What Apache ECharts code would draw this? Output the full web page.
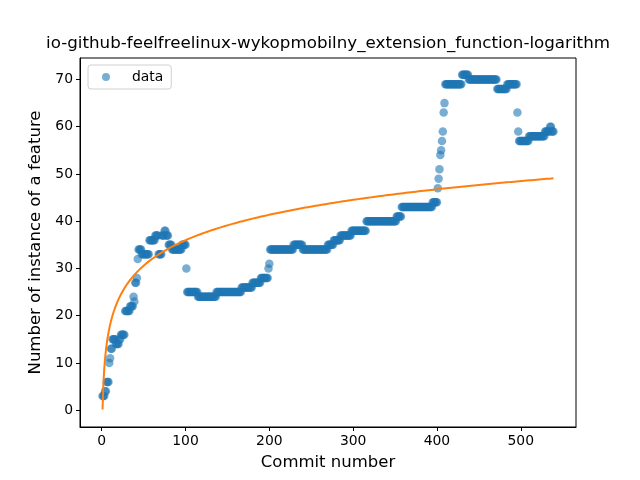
<!DOCTYPE html>
<html>
<head>
<meta charset="utf-8">
<script src="https://cdn.jsdelivr.net/npm/echarts@6/dist/echarts.min.js"></script>
<style>html,body{margin:0;padding:0;background:#fff}#c{width:640px;height:480px}</style>
</head>
<body>
<div id="c"></div>
<script>
// Step values of the scatter and how many consecutive commits hold each value
const segValues = [3,4,6,10,11,13,15,14,15,16,21,22,24,23,27,28,32,34,33,36,37,33,37,38,37,35,34,35,30,25,24,25,26,27,28,30,31,34,35,34,35,36,37,38,40,41,43,44,47,49,51,54,55,57,59,63,65,69,71,70,68,69,63,59,57,58,59,60,59];
const segCounts = [3,2,3,1,1,2,4,4,2,5,6,4,1,1,2,1,1,4,9,7,4,4,3,2,3,4,12,5,1,13,22,30,13,10,9,1,1,28,11,30,7,8,13,18,36,6,37,6,1,1,1,1,1,1,1,1,1,20,8,34,12,12,1,1,12,19,6,2,3];
// logarithmic fit y = fitA * ln(x) + fitB, coefficients
const fitA = 7.78;
const fitB = 0.15;
const xTicks = [0,100,200,300,400,500];
const yTicks = [0,10,20,30,40,50,60,70];
const titleText = 'io-github-feelfreelinux-wykopmobilny_extension_function-logarithm';

const pts = [];
let xi = 1;
for (let s = 0; s < segValues.length; s++) {
  for (let k = 0; k < segCounts[s]; k++) { pts.push([xi, segValues[s]]); xi++; }
}
const fit = pts.map(p => [p[0], fitA * Math.log(p[0]) + fitB]);

const xmin = pts[0][0], xmax = pts[pts.length - 1][0];
const xr = xmax - xmin;
const chart = echarts.init(document.getElementById('c'), null, {renderer: 'canvas'});
const font = 'DejaVu Sans';
chart.setOption({
  animation: false,
  backgroundColor: '#fff',
  textStyle: {fontFamily: font},
  grid: {left: 80, right: 64, top: 58, bottom: 53, show: true, borderColor: '#000', borderWidth: 1, backgroundColor: 'transparent'},
  graphic: [{type: 'text', x: 328, y: 44, style: {text: titleText, fontFamily: font, fontSize: 16.7, fill: '#000', textAlign: 'center', textVerticalAlign: 'middle'}}],
  legend: {
    data: ['data'], left: 88, top: 65, orient: 'vertical',
    icon: 'circle', itemWidth: 8, itemHeight: 8,
    padding: [5, 8, 5, 14], backgroundColor: '#fff', borderColor: '#d0d0d0', borderWidth: 1, borderRadius: 3,
    textStyle: {fontFamily: font, fontSize: 13.9, color: '#000', padding: [0, 0, 0, 17]}
  },
  xAxis: {
    type: 'value', min: xmin - 0.05 * xr, max: xmax + 0.05 * xr,
    name: 'Commit number', nameLocation: 'middle', nameGap: 27,
    nameTextStyle: {fontFamily: font, fontSize: 16.5, color: '#000'},
    axisLine: {show: true, onZero: false, lineStyle: {color: '#000'}},
    axisTick: {show: true, length: 4, lineStyle: {color: '#000'}, customValues: xTicks},
    axisLabel: {fontFamily: font, fontSize: 13.9, color: '#000', margin: 7, customValues: xTicks},
    splitLine: {show: false}
  },
  yAxis: {
    type: 'value', min: -3.55, max: 74.55,
    name: 'Number of instance of a feature', nameLocation: 'middle', nameGap: 33,
    nameTextStyle: {fontFamily: font, fontSize: 16.5, color: '#000'},
    axisLine: {show: true, onZero: false, lineStyle: {color: '#000'}},
    axisTick: {show: true, length: 4, lineStyle: {color: '#000'}, customValues: yTicks},
    axisLabel: {fontFamily: font, fontSize: 13.9, color: '#000', margin: 7, customValues: yTicks},
    splitLine: {show: false}
  },
  series: [
    {name: 'data', type: 'scatter', data: pts, symbol: 'circle', symbolSize: 8.5,
     itemStyle: {color: '#1f77b4', opacity: 0.6}, z: 2},
    {name: 'fit', type: 'line', data: fit, showSymbol: false, symbol: 'none', smooth: false,
     lineStyle: {color: '#ff7f0e', width: 2}, itemStyle: {color: '#ff7f0e'}, z: 3}
  ]
});
</script>
</body>
</html>
